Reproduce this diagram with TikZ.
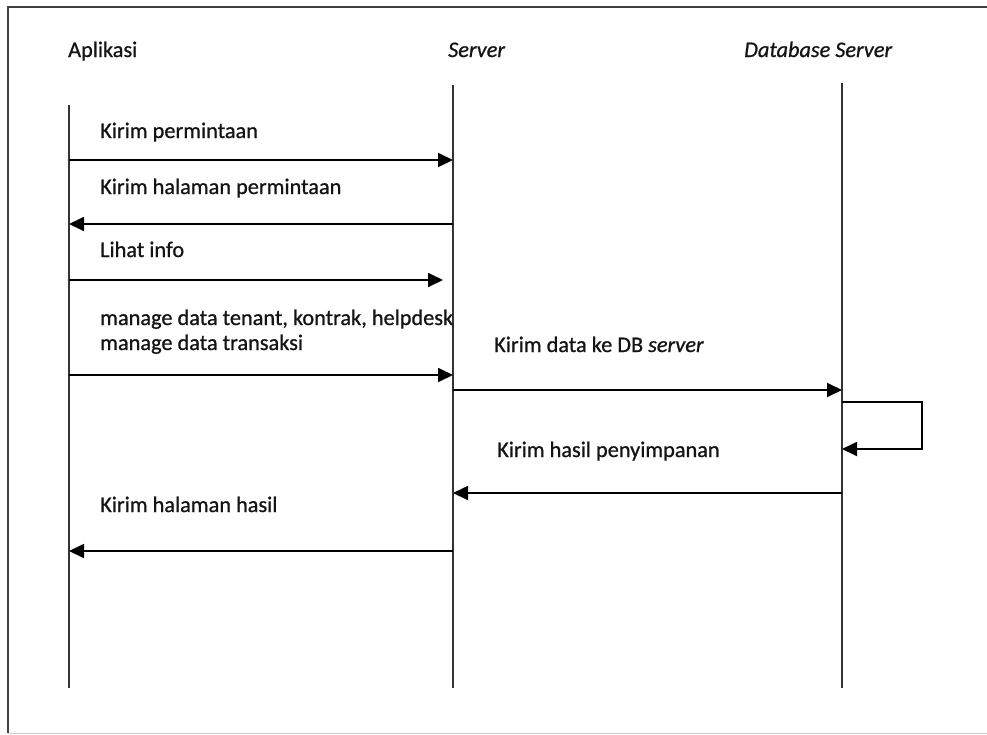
\documentclass[tikz,border=0pt]{standalone}
\usepackage{fontspec}
\setmainfont{Carlito}[FakeBold=0.8]
\usetikzlibrary{arrows.meta}
\begin{document}
\begin{tikzpicture}[x=1pt,y=-1pt,
  lbl/.style={anchor=base west,inner sep=0pt,font=\fontsize{22.3}{26}\selectfont,text=black!92},
  head/.style={lbl},
  life/.style={line width=1.8pt,draw=black!80},
  msg/.style={line width=1.8pt,draw=black,-{Triangle[length=15pt,width=14pt]}},
  frame/.style={line width=1.4pt,draw=black!75}]
\useasboundingbox (0,0) rectangle (987,734);
% frame
\draw[frame] (990,7) -- (8,7) -- (8,733);
\draw[line width=0.6pt,draw=black!20] (8,733) -- (987,733);
% headers
\node[head] (happ) at (68,57) {Aplikasi};
\node[head] (hsrv) at (448,57) {\itshape Server};
\node[head] (hdb) at (744,57) {\itshape Database Server};
% lifelines
\coordinate (appT) at (69,105);
\coordinate (appB) at (69,688);
\coordinate (srvT) at (453,85);
\coordinate (srvB) at (453,688);
\coordinate (dbT) at (842,83);
\coordinate (dbB) at (842,688);
\draw[life] (appT) -- (appB);
\draw[life] (srvT) -- (srvB);
\draw[life] (dbT) -- (dbB);
% message levels
\coordinate (m1) at (0,160);
\coordinate (m2) at (0,224);
\coordinate (m3) at (0,280);
\coordinate (m3e) at (443,280);
\coordinate (m4) at (0,375);
\coordinate (m5) at (0,390);
\coordinate (l1) at (922,402);
\coordinate (l2) at (922,449);
\coordinate (m7) at (0,493);
\coordinate (m8) at (0,551);
% labels
\node[lbl] (t1) at (100,138) {Kirim permintaan};
\node[lbl] (t2) at (100,194) {Kirim halaman permintaan};
\node[lbl] (t3) at (100,257) {Lihat info};
\node[lbl] (t4a) at (100,325) {manage data tenant, kontrak, helpdesk};
\node[lbl] (t4b) at (100,350) {manage data transaksi};
\node[lbl] (t5) at (494,352) {Kirim data ke DB \textit{server}};
\node[lbl] (t7) at (497,457) {Kirim hasil penyimpanan};
\node[lbl] (t8) at (100,512) {Kirim halaman hasil};
% messages
\draw[msg] (appT |- m1) -- (srvT |- m1);
\draw[msg] (srvT |- m2) -- (appT |- m2);
\draw[msg] (appT |- m3) -- (m3e);
\draw[msg] (appT |- m4) -- (srvT |- m4);
\draw[msg] (srvT |- m5) -- (dbT |- m5);
\draw[msg] (dbT |- l1) -- (l1) -- (l2) -- (dbT |- l2);
\draw[msg] (dbT |- m7) -- (srvT |- m7);
\draw[msg] (srvT |- m8) -- (appT |- m8);
\end{tikzpicture}
\end{document}
